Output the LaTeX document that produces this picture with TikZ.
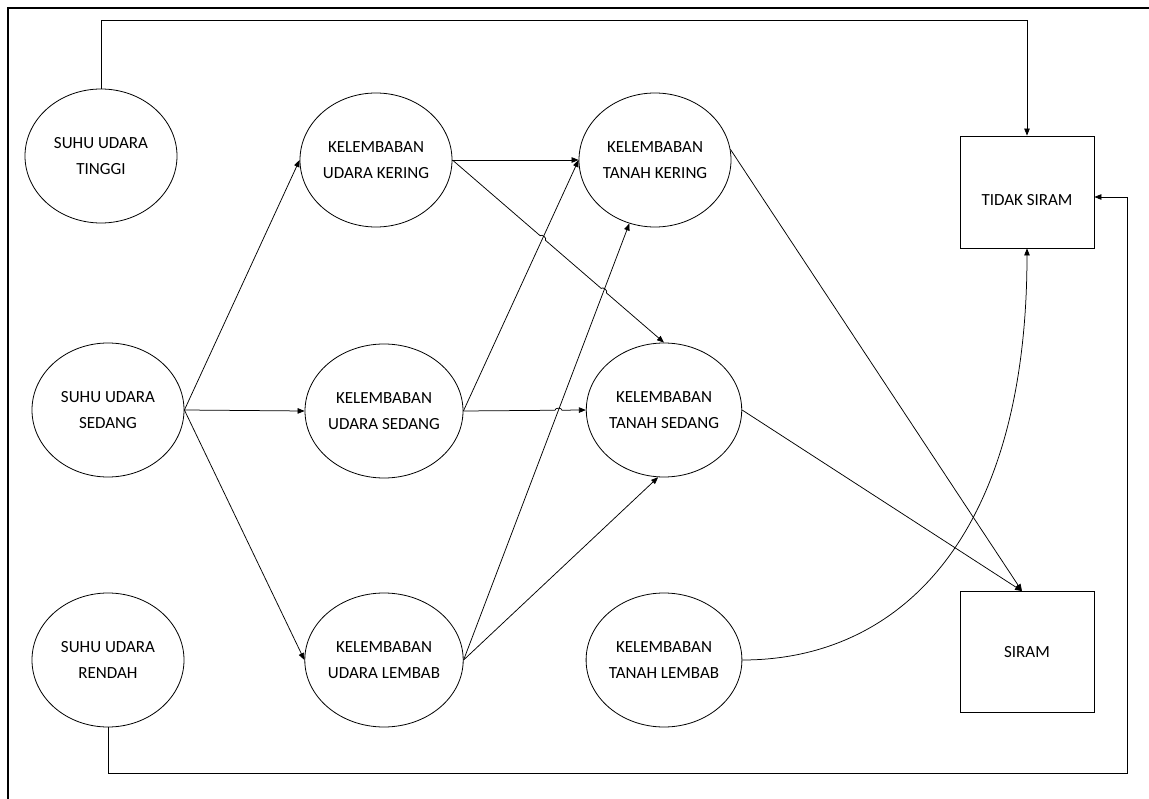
\documentclass[tikz,border=0pt]{standalone}
\usepackage{fontspec}
\setmainfont{Carlito}
\usetikzlibrary{shapes.geometric,arrows.meta,intersections,calc}
\begin{document}
\begin{tikzpicture}[x=1pt,y=-1pt,
  ell/.style={ellipse, draw, line width=0.8pt, minimum width=152pt, minimum height=134pt, inner sep=0pt, align=center, font=\fontsize{17}{26}\selectfont},
  box/.style={rectangle, draw, line width=0.8pt, minimum width=134pt, inner sep=0pt, align=center, font=\fontsize{17}{26}\selectfont},
  wire/.style={line width=0.7pt},
  conn/.style={line width=0.75pt, -{Triangle[length=7pt,width=5.5pt]}},
  frame/.style={line width=2.5pt}]
\useasboundingbox (0,0) rectangle (1149,799);
\draw[frame] (8,799) -- (8,8) -- (1149,8);

\node[ell] (st) at (101,156) {SUHU UDARA\\TINGGI};
\node[ell] (ss) at (108,410) {SUHU UDARA\\SEDANG};
\node[ell] (sr) at (108,660) {SUHU UDARA\\RENDAH};
\node[ell] (uk) at (376,160) {KELEMBABAN\\UDARA KERING};
\node[ell] (us) at (384,411) {KELEMBABAN\\UDARA SEDANG};
\node[ell] (ul) at (384,660) {KELEMBABAN\\UDARA LEMBAB};
\node[ell] (tk) at (655,160) {KELEMBABAN\\TANAH KERING};
\node[ell] (ts) at (664,410) {KELEMBABAN\\TANAH SEDANG};
\node[ell] (tl) at (664,660) {KELEMBABAN\\TANAH LEMBAB};
\node[box, minimum height=112pt, text height=27pt, text depth=0pt] (tds) at (1027,192) {TIDAK SIRAM};
\node[box, minimum height=121pt] (si) at (1027,652) {SIRAM};

% top and bottom loops
\draw[conn] (st.north) -- ++(0,-68) -| (tds.north);
\draw[conn] (sr.south) |- (1127,773) |- ([yshift=-5pt]tds.east);

% suhu sedang fan
\draw[conn] (ss.east) -- (uk.west);
\draw[conn] (ss.east) -- (us.west);
\draw[conn] (ss.east) -- (ul.west);

% crossings
\path[name path=p1] (us.east) -- (tk.west);
\path[name path=p2] (ul.east) -- (tk.248);
\path[name path=p3] (uk.east) -- (ts.north);
\path[name path=p4] (us.east) -- (ts.west);
\path[name intersections={of=p3 and p1, by=h1}];
\path[name intersections={of=p3 and p2, by=h2}];
\path[name intersections={of=p4 and p2, by=h3}];

\draw[conn] (uk.east) -- (tk.west);
\draw[conn] (us.east) -- (tk.west);
\draw[conn] (ul.east) -- (tk.248);
\draw[conn] (ul.east) -- (ts.265);
\draw[conn] (uk.east) -- ($(h1)!3.5pt!(uk.east)$) to[bend left=90] ($(h1)!3.5pt!(ts.north)$)
  -- ($(h2)!3.5pt!(uk.east)$) to[bend left=90] ($(h2)!3.5pt!(ts.north)$) -- (ts.north);
\draw[conn] (us.east) -- ($(h3)!3.5pt!(us.east)$) to[bend left=90] ($(h3)!3.5pt!(ts.west)$) -- (ts.west);

% to siram
\draw[conn] (tk.8) -- ([xshift=-5pt]si.north);
\draw[conn] (ts.east) -- ([xshift=-5pt]si.north);
\draw[conn] (tl.east) .. controls +(158,0) and +(0,288) .. (tds.south);
\end{tikzpicture}
\end{document}
